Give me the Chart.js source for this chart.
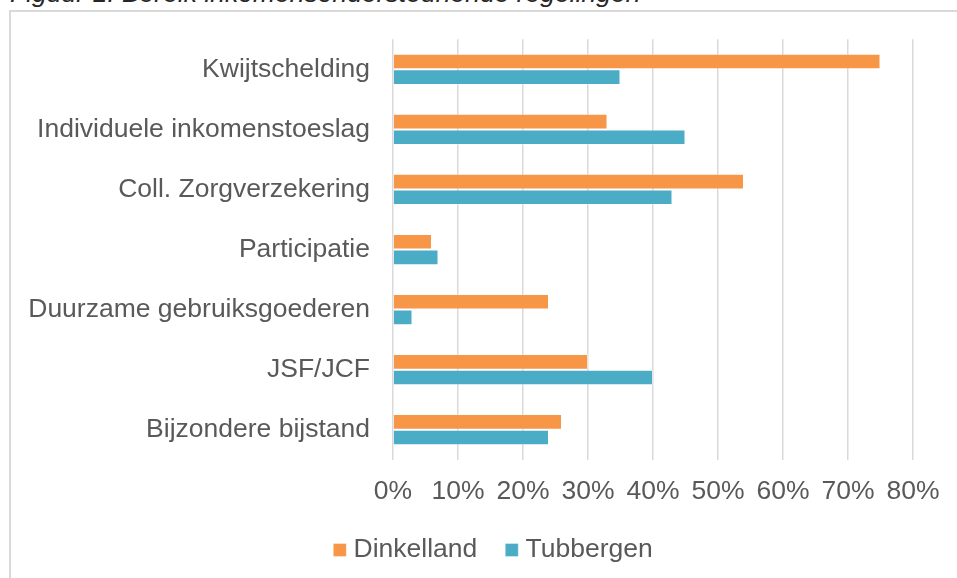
<!DOCTYPE html>
<html>
<head>
<meta charset="utf-8">
<script src="https://cdn.jsdelivr.net/npm/chart.js@4"></script>
<style>
  html, body {
    margin: 0;
    padding: 0;
    width: 957px;
    height: 578px;
    overflow: hidden;
    background: #ffffff;
    font-family: "Liberation Sans", Arial, sans-serif;
  }
  .titel {
    position: absolute;
    left: 10px;
    top: -20px;
    font-size: 26.5px;
    line-height: 26.5px;
    font-style: italic;
    color: #262626;
    white-space: nowrap;
  }
  .frame {
    position: absolute;
    left: 9px;
    top: 10px;
    width: 966px;
    height: 600px;
    border: 2px solid #d9d9d9;
  }
  /* canvas begint bovenaan de pagina, over de rand heen */
  .chart-box {
    position: relative;
    top: -12px;
    width: 966px;
    height: 600px;
  }
</style>
</head>
<body>
<div class="titel">Figuur 1: Bereik inkomensondersteunende regelingen</div>
<div class="frame">
  <div class="chart-box">
    <canvas id="bereik"></canvas>
  </div>
</div>
<script>
  // regelingen (van boven naar beneden)
  const regelingen = [
    "Kwijtschelding",
    "Individuele inkomenstoeslag",
    "Coll. Zorgverzekering",
    "Participatie",
    "Duurzame gebruiksgoederen",
    "JSF/JCF",
    "Bijzondere bijstand",
  ];
  // bereik in procenten
  const dinkelland = [75, 33, 54, 6, 24, 30, 26];
  const tubbergen = [35, 45, 43, 7, 3, 40, 24];
  const xTicks = [0, 10, 20, 30, 40, 50, 60, 70, 80];

  const tekstKleur = "#595959";
  const familie = "'Liberation Sans', Arial, sans-serif";
  const lettertype = { family: familie, size: 26.5 };

  // legenda staat in Excel gecentreerd onder het hele kader, niet onder het plotvlak
  const legendaPlek = {
    id: "legendaPlek",
    afterLayout(chart) {
      const l = chart.legend;
      l.left += 34;
      l.right += 34;
      l.top -= 21;
      l.bottom -= 21;
    },
  };

  new Chart(document.getElementById("bereik"), {
    type: "bar",
    data: {
      labels: regelingen,
      datasets: [
        {
          label: "Dinkelland",
          data: dinkelland,
          backgroundColor: "#f79646",
          borderColor: "rgba(255,255,255,0.35)",
          borderWidth: 1,
        },
        {
          label: "Tubbergen",
          data: tubbergen,
          backgroundColor: "#4bacc6",
          borderColor: "rgba(255,255,255,0.35)",
          borderWidth: 1,
        },
      ],
    },
    plugins: [legendaPlek],
    options: {
      indexAxis: "y",
      responsive: true,
      maintainAspectRatio: false,
      animation: false,
      datasets: { bar: { categoryPercentage: 0.52, barPercentage: 1.0 } },
      layout: { padding: { top: 39.3, bottom: 5.75, left: 0, right: 64 } },
      scales: {
        x: {
          min: xTicks[0],
          max: xTicks[xTicks.length - 1],
          afterBuildTicks: (scale) => {
            scale.ticks = xTicks.map((v) => ({ value: v }));
          },
          grid: { color: "#d9d9d9", lineWidth: 1.5, drawTicks: false },
          border: { display: false },
          ticks: {
            color: tekstKleur,
            font: { family: familie, size: 26.5, lineHeight: 0.585 },
            padding: 24.25,
            maxRotation: 0,
            autoSkip: false,
            callback: (v) => v + "%",
          },
        },
        y: {
          grid: { display: false, drawTicks: false },
          border: { display: false },
          afterFit: (scale) => {
            scale.width = 382;
          },
          ticks: {
            color: tekstKleur,
            font: lettertype,
            padding: 23,
            autoSkip: false,
          },
        },
      },
      plugins: {
        legend: {
          position: "bottom",
          labels: {
            color: tekstKleur,
            font: lettertype,
            usePointStyle: true,
            pointStyle: "rect",
            boxWidth: 1,
            boxHeight: 13,
            padding: 34,
          },
        },
        tooltip: { enabled: false },
      },
    },
  });
</script>
</body>
</html>
